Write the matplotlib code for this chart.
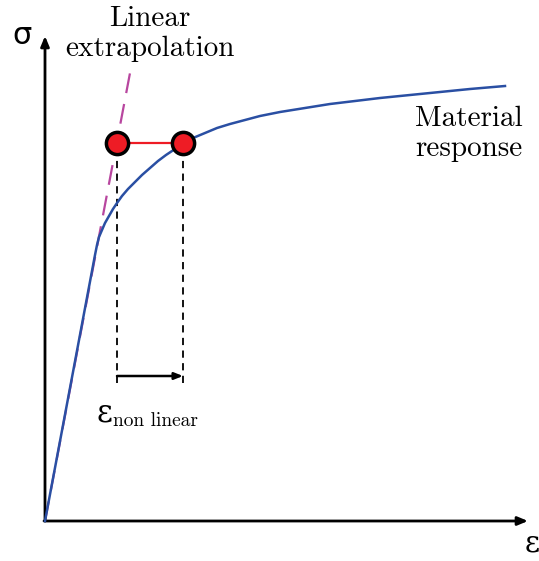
import matplotlib.pyplot as plt
import numpy as np

plt.rcParams['mathtext.fontset'] = 'cm'

# material response curve (strain, stress), arbitrary units
strain = [0, 50, 52, 54, 57, 60, 64, 68, 72, 77, 83, 90, 97, 105, 113, 121, 130, 138,
          148, 160, 172, 185, 200, 215, 235, 260, 285, 310, 335, 365, 395, 425, 460]
stress = [0, 266, 276, 284, 291, 298, 305, 312, 318, 325, 332, 339, 346, 353, 360, 366, 372, 378,
          383, 388, 393, 397, 401, 405, 409, 413, 417, 420, 423, 426, 429, 432, 435]

# linear extrapolation of the elastic part
lin_strain = [0, 85]
lin_stress = [0, 448]

# the two points at the same stress
pt_strain = [72, 138]
pt_stress = [378, 378]
arrow_stress = 145

fig = plt.figure(figsize=(5.39, 5.61), dpi=100)
ax = fig.add_axes([0, 0, 1, 1])
ax.set_xlim(-45, 494)
ax.set_ylim(-40, 521)
ax.axis('off')

# axes with arrows
ax.annotate('', xy=(0, 485), xytext=(0, 0),
            arrowprops=dict(arrowstyle='-|>,head_width=0.25,head_length=0.6', color='black', lw=2,
                            shrinkA=0, shrinkB=0))
ax.annotate('', xy=(483, 0), xytext=(-1, 0),
            arrowprops=dict(arrowstyle='-|>,head_width=0.25,head_length=0.6', color='black', lw=2,
                            shrinkA=0, shrinkB=0))

ax.plot(lin_strain, lin_stress, color='#b8469f', lw=1.6, dashes=(9, 5), zorder=2)
ax.plot(strain, stress, color='#2a4fa3', lw=1.8, zorder=3)

# vertical guides
for s in pt_strain:
    ax.plot([s, s], [138, pt_stress[0]], color='black', lw=1.3, dashes=(4, 3), zorder=1)

ax.plot(pt_strain, pt_stress, color='#ee1c25', lw=1.6, zorder=4)
ax.plot(pt_strain, pt_stress, 'o', ms=16, mfc='#ee1c25', mec='black', mew=2.5, zorder=5)

ax.annotate('', xy=(pt_strain[1], arrow_stress), xytext=(pt_strain[0], arrow_stress),
            arrowprops=dict(arrowstyle='-|>,head_width=0.2,head_length=0.5', color='black', lw=1.8,
                            shrinkA=0, shrinkB=0))

# labels
ax.text(-23, 486, 'σ', fontsize=22, family='DejaVu Sans', ha='center', va='center')
ax.text(487, -23, 'ε', fontsize=21, family='DejaVu Serif', ha='center', va='center')
ax.text(105, 487, 'Linear\nextrapolation', fontsize=21, family='cmr10', ha='center', va='center',
        linespacing=1.15)
ax.text(424, 387, 'Material\nresponse', fontsize=21, family='cmr10', ha='center', va='center',
        linespacing=1.15)
ax.text(52, 108, 'ε', fontsize=22, family='DejaVu Serif', ha='left', va='center')
ax.text(68, 100, 'non linear', fontsize=14, family='cmr10', ha='left', va='center')

fig.savefig('out.png', dpi=100)
